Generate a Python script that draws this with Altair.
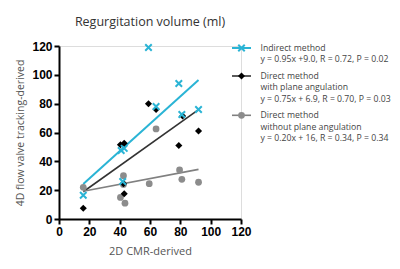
import altair as alt
import pandas as pd

# ---- data ----
series = ["Indirect method", "Direct method with plane angulation", "Direct method without plane angulation"]

cyan_x = [16, 41, 43, 42, 59, 64, 79, 81, 92]
cyan_y = [16.5, 47.5, 49, 26, 119, 78, 94, 72.5, 76]
black_x = [16, 40.5, 43, 42.5, 43, 59, 64, 79, 81.5, 92]
black_y = [7.5, 51.5, 52.5, 24.5, 17.5, 80, 76, 51, 71.5, 61]
gray_x = [16, 40.5, 42.5, 42.5, 43.5, 59.5, 64, 79.5, 81, 92]
gray_y = [22, 15, 30, 24, 11, 24.5, 62.5, 34, 27.5, 25.5]

slopes = [0.95, 0.75, 0.20]
intercepts = [9.0, 6.9, 16.0]

legend_lines = [
    ["Indirect method", "y = 0.95x +9.0, R = 0.72, P = 0.02"],
    ["Direct method", "with plane angulation", "y = 0.75x + 6.9, R = 0.70, P = 0.03"],
    ["Direct method", "without plane angulation", "y = 0.20x + 16, R = 0.34, P = 0.34"],
]

ticks = [0, 20, 40, 60, 80, 100, 120]

# ---- styles ----
point_colors = ["#2AB4D5", "#000000", "#8C8C8C"]
line_colors = ["#2AB4D5", "#333333", "#808080"]
X_PATH = "M-1,-1L1,1M1,-1L-1,1"
W, H = 182, 173

xs = [cyan_x, black_x, gray_x]
ys = [cyan_y, black_y, gray_y]

pts = pd.concat([
    pd.DataFrame({"x": xs[i], "y": ys[i], "series": series[i]}) for i in range(3)
])
reg = pd.concat([
    pd.DataFrame({
        "x": [min(xs[i]), max(xs[i])],
        "y": [slopes[i] * min(xs[i]) + intercepts[i], slopes[i] * max(xs[i]) + intercepts[i]],
        "series": series[i],
    }) for i in range(3)
])

xscale = alt.Scale(domain=[0, 120], nice=False)
yscale = alt.Scale(domain=[0, 120], nice=False)

common_axis = dict(
    values=ticks, grid=False,
    labelFont="Liberation Sans", labelFontWeight="bold", labelFontSize=12,
    labelColor="black", labelPadding=2, labelFlush=False, labelOverlap=False,
    domainColor="black", domainWidth=2, tickColor="black", tickWidth=2, tickSize=5,
    titleFont="Open Sans", titleFontSize=10.5, titleFontWeight="normal",
    titleColor="#555555",
)
x_axis = alt.Axis(title="2D CMR-derived", titleX=W / 2, titleY=35,
                  titleBaseline="alphabetic", **{**common_axis, "titleFontSize": 11})
y_axis = alt.Axis(title="4D flow valve tracking-derived", titleX=-36, titleY=H / 2,
                  titleBaseline="alphabetic", titleAlign="center", titleAngle=270,
                  **common_axis)

data_layers = []
for i in range(3):
    data_layers.append(
        alt.Chart(reg).transform_filter(alt.datum.series == series[i])
        .mark_line(color=line_colors[i], strokeWidth=2 if i == 0 else 1.6)
        .encode(x=alt.X("x:Q", scale=xscale, axis=x_axis),
                y=alt.Y("y:Q", scale=yscale, axis=y_axis))
    )
marks = [
    dict(shape=X_PATH, filled=False, size=42, strokeWidth=2),
    dict(shape="diamond", filled=True, size=50),
    dict(shape="circle", filled=True, size=46),
]
for i in [2, 1, 0]:
    data_layers.append(
        alt.Chart(pts).transform_filter(alt.datum.series == series[i])
        .mark_point(color=point_colors[i], opacity=1, **marks[i])
        .encode(x=alt.X("x:Q", scale=xscale, axis=x_axis),
                y=alt.Y("y:Q", scale=yscale, axis=y_axis))
    )

# ---- legend (layout computed here, not data) ----
first_base = 5.0
line_h = 11.3
gap = 5.4
leg_rows, sym_rows = [], []
ypos = first_base
for i, lines in enumerate(legend_lines):
    sym_rows.append({"series": series[i], "ypix": ypos - 3})
    for t in lines:
        leg_rows.append({"text": t, "ypix": ypos})
        ypos += line_h
    ypos += gap
leg_df = pd.DataFrame(leg_rows)
sym_df = pd.DataFrame(sym_rows)

legend_layers = [
    alt.Chart(leg_df).mark_text(align="left", baseline="alphabetic", font="Open Sans",
                                fontSize=8.7, color="#444444")
    .encode(x=alt.value(201.5), y=alt.Y("ypix:Q", scale=None, axis=None), text="text:N")
]
for i in range(3):
    legend_layers.append(
        alt.Chart(sym_df).transform_filter(alt.datum.series == series[i])
        .mark_rule(color=line_colors[i], strokeWidth=2 if i == 0 else 1.6)
        .encode(x=alt.value(173), x2=alt.value(192), y=alt.Y("ypix:Q", scale=None, axis=None))
    )
    legend_layers.append(
        alt.Chart(sym_df).transform_filter(alt.datum.series == series[i])
        .mark_point(color=point_colors[i], opacity=1, **marks[i])
        .encode(x=alt.value(182.5), y=alt.Y("ypix:Q", scale=None, axis=None))
    )

chart = (
    alt.layer(alt.layer(*data_layers), alt.layer(*legend_layers))
    .resolve_scale(y="independent")
    .properties(
        width=W, height=H,
        padding={"left": 51, "top": 38, "right": 150, "bottom": 42},
        autosize=alt.AutoSizeParams(type="none"),
        title=alt.TitleParams("Regurgitation volume (ml)", font="Open Sans", fontSize=12.5,
                              fontWeight="normal", color="#333333", anchor="middle", offset=12),
    )
    .configure_view(stroke=None)
    .configure(background="white")
)

chart.save("out.html", embed_options={"renderer": "svg", "actions": False})
